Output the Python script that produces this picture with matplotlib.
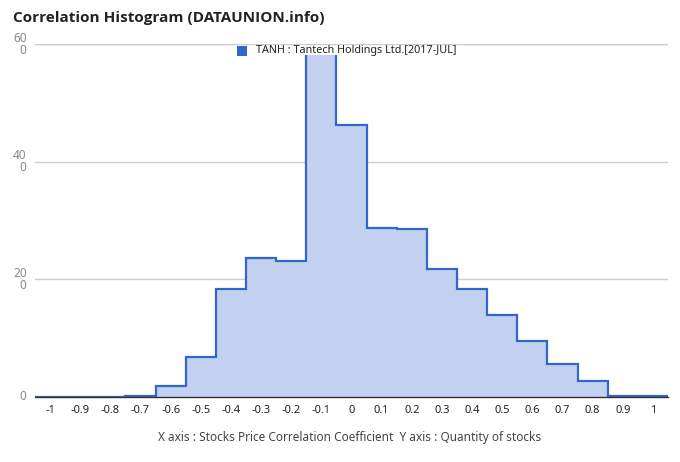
import numpy as np
import matplotlib
matplotlib.use('Agg')
import matplotlib.pyplot as plt
from matplotlib.patches import Rectangle

plt.rcParams['font.family'] = ['Noto Sans', 'DejaVu Sans']

# correlation bins (centers) and stock counts
bins = [-1, -0.9, -0.8, -0.7, -0.6, -0.5, -0.4, -0.3, -0.2, -0.1,
        0, 0.1, 0.2, 0.3, 0.4, 0.5, 0.6, 0.7, 0.8, 0.9, 1]
counts = [0, 0, 0, 0.2, 1.9, 6.8, 18.3, 23.6, 23.1, 60,
          46.3, 28.8, 28.6, 21.7, 18.3, 14.0, 9.5, 5.6, 2.7, 0.2, 0.2]
xticklabels = ['-1', '-0.9', '-0.8', '-0.7', '-0.6', '-0.5', '-0.4', '-0.3', '-0.2', '-0.1',
               '0', '0.1', '0.2', '0.3', '0.4', '0.5', '0.6', '0.7', '0.8', '0.9', '1']
yticks = [0, 20, 40, 60]
yticklabels = ['0', '20\n0', '40\n0', '60\n0']
legend_label = 'TANH : Tantech Holdings Ltd.[2017-JUL]'

line_color = '#3366cc'
fill_color = '#c2d1f0'

fig = plt.figure(figsize=(6.8, 4.62), dpi=100)
ax = fig.add_axes([35 / 680, 1 - 397 / 462, 633 / 680, 353 / 462])

x = np.array(bins)
edges = np.append(x - 0.05, x[-1] + 0.05)
ax.stairs(counts, edges, fill=True, color=fill_color, baseline=0, zorder=2)
ax.stairs(counts, edges, color=line_color, linewidth=1.6, baseline=None, zorder=3)

ax.set_xlim(-1.05, 1.05)
ax.set_ylim(0, 60)
ax.set_xticks(bins)
ax.set_xticklabels(xticklabels, fontsize=8, color='#222222')
ax.set_yticks(yticks)
ax.set_yticklabels(yticklabels, fontsize=8.5, color='#888888', linespacing=0.9,
                   ha='right', va='center', multialignment='right')
ax.tick_params(axis='both', length=0)
ax.tick_params(axis='x', pad=6)
ax.tick_params(axis='y', pad=6)

for s in ['top', 'right', 'left']:
    ax.spines[s].set_visible(False)
ax.spines['bottom'].set_color('#333333')
ax.spines['bottom'].set_linewidth(1)
ax.spines['bottom'].set_zorder(4)
ax.yaxis.grid(True, color='#cccccc', linewidth=1, zorder=0)
ax.set_axisbelow(True)

# legend box covering the top of the plot
ax.add_patch(Rectangle(((232 - 35) / 633, (397 - 55) / 353), 232 / 633, 14 / 353,
                       transform=ax.transAxes, facecolor='white',
                       edgecolor='none', zorder=5, clip_on=False))
ax.axhline(60, color='#cccccc', linewidth=1, zorder=6)
ax.add_patch(Rectangle(((237 - 35) / 633, (397 - 56) / 353), 10 / 633, 10 / 353,
                       transform=ax.transAxes, facecolor=line_color,
                       edgecolor='none', zorder=7, clip_on=False))
fig.text(256 / 680, 1 - 51 / 462, legend_label, fontsize=7.8, color='#222222',
         ha='left', va='center', zorder=7)

fig.text(13 / 680, 1 - 18 / 462, 'Correlation Histogram (DATAUNION.info)',
         fontsize=11, fontweight='bold', family='Open Sans', color='#222222',
         ha='left', va='center')
fig.text(350 / 680, 1 - 437 / 462,
         'X axis : Stocks Price Correlation Coefficient  Y axis : Quantity of stocks',
         fontsize=8.5, color='#444444', ha='center', va='center')

fig.savefig('out.png', dpi=100)
